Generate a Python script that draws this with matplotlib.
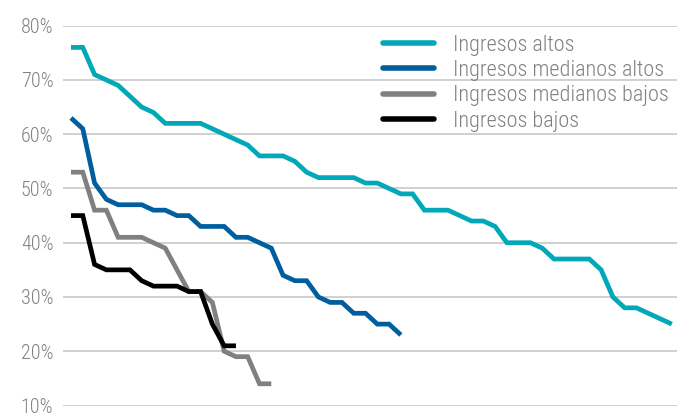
import numpy as np
import matplotlib
matplotlib.use("Agg")
import matplotlib.pyplot as plt

plt.rcParams['font.family'] = ['Roboto Condensed', 'DejaVu Sans']
plt.rcParams['font.weight'] = 'light'

# values (percent), one point per step
altos = [76, 76, 71, 70, 69, 67, 65, 64, 62, 62, 62, 62, 61, 60, 59, 58,
         56, 56, 56, 55, 53, 52, 52, 52, 52, 51, 51, 50, 49, 49, 46, 46,
         46, 45, 44, 44, 43, 40, 40, 40, 39, 37, 37, 37, 37, 35, 30, 28,
         28, 27, 26, 25]
medianos_altos = [63, 61, 51, 48, 47, 47, 47, 46, 46, 45, 45, 43, 43, 43,
                  41, 41, 40, 39, 34, 33, 33, 30, 29, 29, 27, 27, 25, 25, 23]
medianos_bajos = [53, 53, 46, 46, 41, 41, 41, 40, 39, 35, 31, 31, 29, 20,
                  19, 19, 14, 14]
bajos = [45, 45, 36, 35, 35, 35, 33, 32, 32, 32, 31, 31, 25, 21, 21]

labels = ['Ingresos altos', 'Ingresos medianos altos',
          'Ingresos medianos bajos', 'Ingresos bajos']
colors = ['#00a8b8', '#005e9e', '#808080', '#000000']
yticks = [10, 20, 30, 40, 50, 60, 70, 80]

txt = '#808080'

fig = plt.figure(figsize=(6.88, 4.17), dpi=100)
ax = fig.add_axes([63/688, 1 - 405.5/417, (677 - 63)/688, (405.5 - 25.7)/417])

for vals, lab, col in zip([altos, medianos_altos, medianos_bajos, bajos], labels, colors):
    ax.plot(np.arange(len(vals)), vals, color=col, lw=3.4, label=lab,
            solid_joinstyle='miter', solid_capstyle='butt', zorder=3)

ax.set_xlim(-0.68, 51.44)
ax.set_ylim(10, 80)
ax.set_yticks(yticks)
ax.set_yticklabels([f'{v}%' for v in yticks])
ax.set_xticks([])
ax.grid(axis='y', color='#c8c8c8', lw=1.2, zorder=0)
ax.tick_params(axis='y', length=0, pad=7, labelsize=14.5, labelcolor=txt)
for s in ax.spines.values():
    s.set_visible(False)

leg = ax.legend(loc='upper left', bbox_to_anchor=(383/688, 1 - 34.5/417),
                bbox_transform=fig.transFigure, frameon=False, fontsize=16,
                handlelength=2.3, handletextpad=0.85, labelspacing=0.2,
                borderpad=0, borderaxespad=0)
for t in leg.get_texts():
    t.set_color(txt)
for h in leg.get_lines():
    h.set_linewidth(4)
    h.set_solid_capstyle('round')

fig.savefig('out.png', dpi=100)
